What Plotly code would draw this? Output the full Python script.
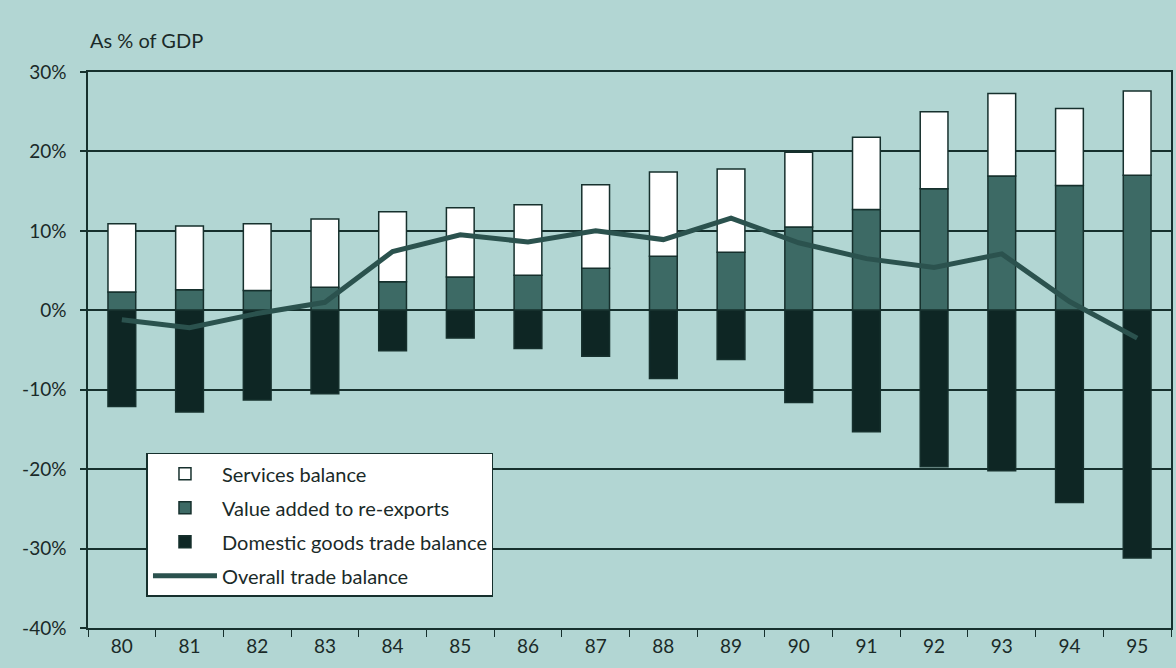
import plotly.graph_objects as go

years = ["80", "81", "82", "83", "84", "85", "86", "87", "88", "89", "90", "91", "92", "93", "94", "95"]
value_added_reexports = [2.3, 2.6, 2.5, 2.9, 3.6, 4.2, 4.4, 5.3, 6.8, 7.3, 10.5, 12.7, 15.3, 16.9, 15.7, 17.0]
services_balance = [8.6, 8.0, 8.4, 8.6, 8.8, 8.7, 8.9, 10.5, 10.6, 10.5, 9.4, 9.1, 9.7, 10.4, 9.7, 10.6]
domestic_goods_balance = [-12.1, -12.8, -11.3, -10.5, -5.1, -3.5, -4.8, -5.8, -8.6, -6.2, -11.6, -15.3, -19.7, -20.2, -24.2, -31.2]
overall_trade_balance = [-1.2, -2.2, -0.4, 1.0, 7.4, 9.5, 8.6, 10.0, 8.9, 11.6, 8.5, 6.5, 5.4, 7.1, 1.1, -3.5]

y_tickvals = [-40, -30, -20, -10, 0, 10, 20, 30]
y_ticktext = ["-40%", "-30%", "-20%", "-10%", "0%", "10%", "20%", "30%"]

BG = "#b2d6d3"
DARK = "#16302d"
FONT = "Lato, 'Open Sans', sans-serif"
TXT = "#1a2a28"
BAR_W = 0.41
OUTLINE = dict(color=DARK, width=1.5)

fig = go.Figure()
fig.add_trace(go.Bar(x=years, y=value_added_reexports, name="Value added to re-exports",
                     marker=dict(color="#3d6a65", line=OUTLINE), width=BAR_W,
                     legendgroup="b", legendrank=2))
fig.add_trace(go.Bar(x=years, y=services_balance, name="Services balance",
                     marker=dict(color="#ffffff", line=OUTLINE), width=BAR_W,
                     legendgroup="a", legendrank=1))
fig.add_trace(go.Bar(x=years, y=domestic_goods_balance, name="Domestic goods trade balance",
                     marker=dict(color="#0e2624", line=OUTLINE), width=BAR_W,
                     legendgroup="c", legendrank=3))
fig.add_trace(go.Scatter(x=years, y=overall_trade_balance, name="Overall trade balance",
                         mode="lines", line=dict(color="#2b524e", width=5),
                         legendgroup="d", legendrank=4))

fig.update_layout(
    width=1176, height=668,
    margin=dict(l=88, r=3, t=72, b=40),
    paper_bgcolor=BG, plot_bgcolor=BG,
    barmode="relative", bargap=0.59,
    font=dict(family=FONT, size=18, color=TXT),
    showlegend=True,
    legend=dict(x=0.054, y=0.315, xanchor="left", yanchor="top",
                bgcolor="#ffffff", bordercolor=DARK, borderwidth=1.5,
                font=dict(size=20, family=FONT, color=TXT),
                traceorder="grouped", tracegroupgap=5,
                itemwidth=64),
    annotations=[dict(text="As % of GDP", xref="paper", yref="paper", x=0.0, y=1.058,
                      xanchor="left", yanchor="middle", showarrow=False,
                      font=dict(size=20, family=FONT, color=TXT))],
)
fig.update_xaxes(type="category", showgrid=False, showline=True, linecolor=DARK, linewidth=1.5,
                 mirror=True, ticks="outside", tickson="boundaries", ticklen=7,
                 tickcolor=DARK, tickwidth=1.2, tickfont=dict(size=19))
fig.update_yaxes(range=[-40, 30], tickvals=y_tickvals, ticktext=y_ticktext,
                 showgrid=True, gridcolor=DARK, gridwidth=1.5,
                 zeroline=True, zerolinecolor=DARK, zerolinewidth=1.5,
                 showline=True, linecolor=DARK, linewidth=1.5, mirror=True,
                 ticks="outside", ticklen=6, tickcolor=DARK, tickwidth=1.5,
                 ticklabelstandoff=10, tickfont=dict(size=19))

fig.write_html("out.html")
